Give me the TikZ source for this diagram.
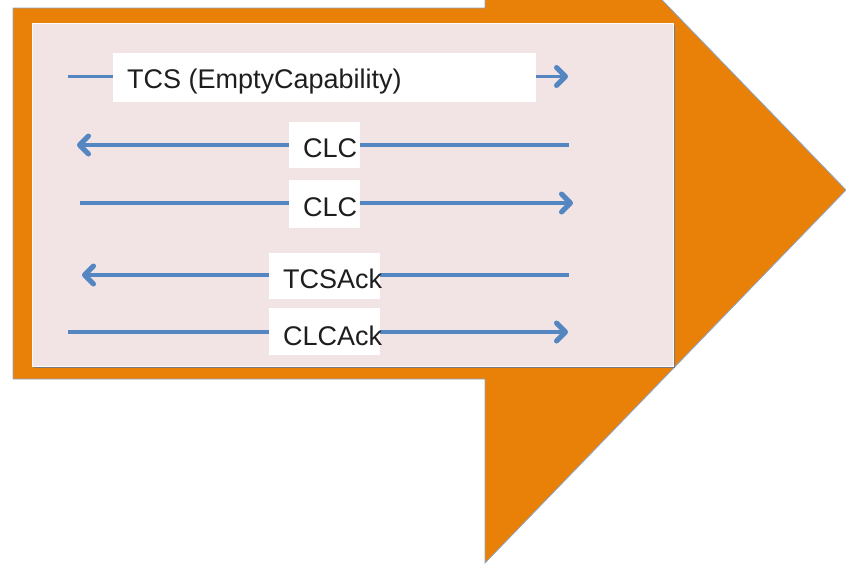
\documentclass[tikz,border=0pt]{standalone}
\usepackage{fontspec}
\setmainfont{Liberation Sans}
\usetikzlibrary{arrows.meta}
\definecolor{shapeorange}{RGB}{233,128,8}
\definecolor{shapeedge}{RGB}{140,165,200}
\definecolor{panelpink}{RGB}{242,228,228}
\definecolor{panelshadow}{RGB}{120,120,125}
\definecolor{msgblue}{RGB}{84,134,194}
\definecolor{txtdark}{RGB}{30,30,30}
\tikzset{
  msg/.style={draw=msgblue, line width=3.3pt,
    -{Straight Barb[round,length=9pt,width=18pt,line width=5pt]}},
  lblbox/.style={fill=white, draw=none, inner sep=0pt, rectangle},
  lbltext/.style={inner sep=0pt, anchor=base west, text=txtdark,
    font=\fontsize{27}{30}\selectfont},
}
\begin{document}
\begin{tikzpicture}[x=1pt,y=-1pt]
\useasboundingbox (0,0) rectangle (846,565);
\clip (0,0) rectangle (846,565);
% big orange arrow
\fill[shapeorange, draw=shapeedge, line width=0.8pt]
  (13,8) -- (485,8) -- (485,-183) -- (846,190) -- (485,563) -- (485,379) -- (13,379) -- cycle;
% pink panel with shadow
\fill[panelshadow] (34,25) rectangle (675,368);
\fill[panelpink, draw=white!85!panelpink, line width=0.6pt] (32,23) rectangle (673,366);

% end points of the messages
\coordinate (a1s) at (68,76.5);  \coordinate (a1e) at (568,76.5);
\coordinate (a2s) at (569,145);  \coordinate (a2e) at (77,145);
\coordinate (a3s) at (80,203);   \coordinate (a3e) at (573,203);
\coordinate (a4s) at (569,275);  \coordinate (a4e) at (82,275);
\coordinate (a5s) at (68,332);   \coordinate (a5e) at (568,332);

\draw[msg] (a1s) -- (a1e);
\draw[msg] (a2s) -- (a2e);
\draw[msg] (a3s) -- (a3e);
\draw[msg] (a4s) -- (a4e);
\draw[msg] (a5s) -- (a5e);

% label boxes
\node[lblbox, minimum width=423pt, minimum height=49pt] (b1) at (324.5,77.5) {};
\node[lblbox, minimum width=71pt, minimum height=46pt] (b2) at (324.5,145) {};
\node[lblbox, minimum width=71pt, minimum height=48pt] (b3) at (324.5,204) {};
\node[lblbox, minimum width=111pt, minimum height=46pt] (b4) at (324.5,276) {};
\node[lblbox, minimum width=111pt, minimum height=47pt] (b5) at (324.5,331.5) {};

% label texts
\node[lbltext] (t1) at (127,88) {TCS (EmptyCapability)};
\node[lbltext] (t2) at (303,157) {CLC};
\node[lbltext] (t3) at (303,216) {CLC};
\node[lbltext] (t4) at (283,288) {TCSAck};
\node[lbltext] (t5) at (283,345) {CLCAck};
\end{tikzpicture}
\end{document}
